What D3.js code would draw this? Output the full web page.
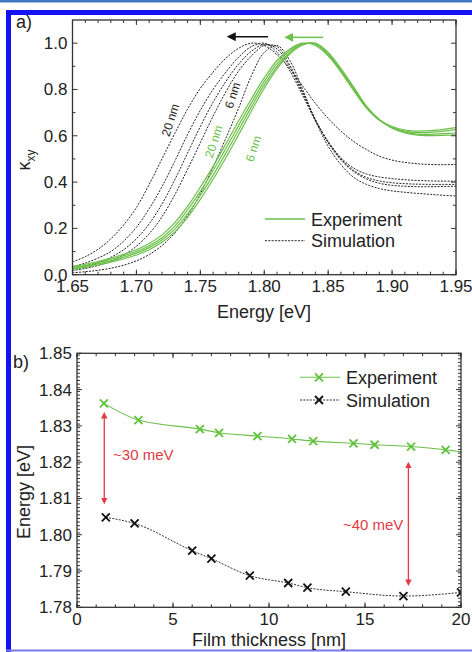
<!DOCTYPE html>
<html><head><meta charset="utf-8">
<script src="https://cdn.jsdelivr.net/npm/d3@7"></script>
<style>
html,body{margin:0;padding:0;background:#fff;}
svg{display:block;font-family:"Liberation Sans",Arial,sans-serif;}
</style></head>
<body>
<svg id="c" width="472" height="652"></svg>
<script>
// ---------- DATA ----------
const energies = [1.65,1.66,1.67,1.68,1.69,1.70,1.71,1.72,1.73,1.74,1.75,1.76,1.77,1.78,1.79,1.80,1.81,1.82,1.83,1.84,1.85,1.86,1.87,1.88,1.89,1.90,1.91,1.92,1.93,1.94,1.95];
const expA = [.035,.045,.057,.072,.088,.108,.135,.172,.225,.295,.378,.468,.565,.665,.76,.85,.925,.975,1.0,.99,.945,.875,.795,.72,.668,.64,.625,.62,.622,.628,.635];
const expB = [.03,.04,.052,.066,.082,.10,.125,.16,.21,.28,.36,.45,.545,.645,.742,.835,.912,.968,.997,.995,.95,.88,.80,.722,.668,.637,.62,.614,.615,.62,.627];
const expC = [.027,.036,.047,.06,.075,.093,.117,.15,.197,.263,.342,.43,.525,.625,.725,.82,.9,.96,.995,.997,.955,.885,.805,.725,.668,.635,.615,.607,.606,.609,.612];
const expD = [.024,.032,.042,.054,.068,.085,.108,.14,.185,.248,.325,.412,.505,.605,.707,.805,.89,.953,.992,1.0,.96,.89,.81,.728,.67,.633,.612,.603,.601,.602,.604];
const sim20 = [.055,.078,.11,.155,.215,.29,.39,.50,.61,.715,.805,.875,.935,.978,1.0,.99,.95,.89,.815,.74,.675,.62,.575,.54,.512,.495,.485,.479,.476,.475,.476];
const sim14 = [.035,.05,.072,.10,.145,.205,.285,.38,.49,.605,.71,.80,.875,.94,.985,1.0,.96,.88,.775,.665,.575,.505,.46,.435,.422,.415,.41,.407,.405,.404,.404];
const sim10 = [.025,.036,.052,.075,.108,.155,.22,.305,.41,.525,.64,.745,.835,.91,.965,.995,.975,.895,.785,.67,.575,.50,.45,.42,.405,.397,.393,.391,.39,.39,.39];
const sim8  = [.018,.027,.04,.058,.085,.123,.177,.25,.345,.455,.57,.685,.79,.88,.945,.99,.985,.905,.79,.67,.57,.495,.445,.413,.395,.386,.382,.38,.38,.381,.382];
const sim6  = [.008,.013,.019,.028,.041,.06,.087,.126,.18,.255,.35,.465,.59,.72,.86,.96,.99,.925,.80,.665,.555,.475,.42,.39,.372,.362,.356,.351,.347,.343,.34];

const xTicksA = [1.65,1.70,1.75,1.80,1.85,1.90,1.95];
const yTicksA = [0.0,0.2,0.4,0.6,0.8,1.0];

const expThick = [1.4,3.2,6.4,7.4,9.4,11.2,12.3,14.4,15.5,17.4,19.2,20.8];
const expPeak  = [1.8362,1.8316,1.8291,1.8281,1.8272,1.8264,1.8258,1.8252,1.8248,1.8243,1.8234,1.8222];
const simThick = [1.5,3,6,7,9,11,12,14,17,20];
const simPeak  = [1.8048,1.8031,1.7956,1.7934,1.7887,1.7867,1.7854,1.7843,1.7831,1.7841];
const xTicksB = [0,5,10,15,20];
const yTicksB = [1.78,1.79,1.80,1.81,1.82,1.83,1.84,1.85];

const GREEN = "#6cc04a", GREENM = "#5fc23a", RED = "#e33a44", AX = "#333";
const svg = d3.select("#c");

// ---------- FRAME ----------
svg.append("rect").attr("x",0).attr("y",0).attr("width",472).attr("height",2.5).attr("fill","#3f78bf");
svg.append("rect").attr("x",6).attr("y",10).attr("width",466).attr("height",5).attr("fill","#1212f2");
svg.append("rect").attr("x",6).attr("y",10).attr("width",5).attr("height",642).attr("fill","#1212f2");
svg.append("rect").attr("x",6).attr("y",649.5).attr("width",466).attr("height",2).attr("fill","#7a7ae8");

function frameAxes(g, x, y, xMajor, xMinor, yMajor, yMinor, xFmt, yFmt){
  const [x0,x1] = x.range(), [y0,y1] = y.range(); // y0 bottom
  const maj=5, mnr=3;
  const tk = g.append("g").attr("stroke",AX).attr("stroke-width",1);
  xMinor.forEach(v=>{ const px=x(v);
    tk.append("line").attr("x1",px).attr("x2",px).attr("y1",y0).attr("y2",y0-mnr);
    tk.append("line").attr("x1",px).attr("x2",px).attr("y1",y1).attr("y2",y1+mnr);});
  xMajor.forEach(v=>{ const px=x(v);
    tk.append("line").attr("x1",px).attr("x2",px).attr("y1",y0).attr("y2",y0-maj);
    tk.append("line").attr("x1",px).attr("x2",px).attr("y1",y1).attr("y2",y1+maj);});
  yMinor.forEach(v=>{ const py=y(v);
    tk.append("line").attr("y1",py).attr("y2",py).attr("x1",x0).attr("x2",x0+mnr);
    tk.append("line").attr("y1",py).attr("y2",py).attr("x1",x1).attr("x2",x1-mnr);});
  yMajor.forEach(v=>{ const py=y(v);
    tk.append("line").attr("y1",py).attr("y2",py).attr("x1",x0).attr("x2",x0+maj);
    tk.append("line").attr("y1",py).attr("y2",py).attr("x1",x1).attr("x2",x1-maj);});
  g.append("rect").attr("x",x0).attr("y",y1).attr("width",x1-x0).attr("height",y0-y1)
    .attr("fill","none").attr("stroke",AX).attr("stroke-width",1.3);
  const lab = g.append("g").attr("fill","#222").attr("font-size",17);
  xMajor.forEach(v=> lab.append("text").attr("x",x(v)).attr("y",y0+17.5).attr("text-anchor","middle").text(xFmt(v)));
  yMajor.forEach(v=> lab.append("text").attr("x",x0-5).attr("y",y(v)+6).attr("text-anchor","end").text(yFmt(v)));
}

// ---------- PANEL A ----------
const xA = d3.scaleLinear().domain([1.65,1.95]).range([72.5,456]);
const yA = d3.scaleLinear().domain([0,1.1]).range([274.7,20]);
const gA = svg.append("g");
svg.append("defs").html(
 '<clipPath id="clipA"><rect x="72.5" y="20" width="383.5" height="254.7"/></clipPath>'+
 '<clipPath id="clipB"><rect x="77" y="353.3" width="384" height="254"/></clipPath>'+
 '<marker id="ahK" viewBox="0 0 10 10" refX="1" refY="5" markerWidth="6" markerHeight="6" orient="auto-start-reverse"><path d="M0,0 L10,5 L0,10 z" fill="#111"/></marker>'+
 '<marker id="ahG" viewBox="0 0 10 10" refX="1" refY="5" markerWidth="6" markerHeight="6" orient="auto-start-reverse"><path d="M0,0 L10,5 L0,10 z" fill="'+GREEN+'"/></marker>'+
 '<marker id="ahR" viewBox="0 0 10 10" refX="1" refY="5" markerWidth="5" markerHeight="6" orient="auto-start-reverse"><path d="M0,0 L10,5 L0,10 z" fill="'+RED+'"/></marker>');

const lineA = d3.line().x((d,i)=>xA(energies[i])).y(d=>yA(d)).curve(d3.curveCatmullRom.alpha(0.5));
const curves = gA.append("g").attr("clip-path","url(#clipA)");
[sim20,sim14,sim10,sim8,sim6].forEach(s=>curves.append("path").attr("d",lineA(s))
  .attr("fill","none").attr("stroke","#222").attr("stroke-width",1).attr("stroke-dasharray","2,1.3"));
[expA,expB,expC,expD].forEach(s=>curves.append("path").attr("d",lineA(s))
  .attr("fill","none").attr("stroke",GREEN).attr("stroke-width",1.2));

frameAxes(gA, xA, yA, xTicksA, d3.range(165,196).map(v=>v/100), yTicksA, d3.range(1,11,2).map(v=>v/10),
  d3.format(".2f"), d3.format(".1f"));

// arrows
gA.append("line").attr("x1",xA(1.803)).attr("x2",xA(1.777)).attr("y1",yA(1.028)).attr("y2",yA(1.028))
  .attr("stroke","#111").attr("stroke-width",1.5).attr("marker-end","url(#ahK)");
gA.append("line").attr("x1",xA(1.846)).attr("x2",xA(1.822)).attr("y1",yA(1.025)).attr("y2",yA(1.025))
  .attr("stroke",GREEN).attr("stroke-width",1.5).attr("marker-end","url(#ahG)");
// curve labels
function rlab(e,v,t,c){ gA.append("text").attr("transform",`translate(${xA(e)},${yA(v)}) rotate(-72)`)
  .attr("text-anchor","middle").attr("dy","0.35em").attr("font-size",12).attr("fill",c).text(t);}
rlab(1.7265,0.668,"20 nm","#222"); rlab(1.7752,0.775,"6 nm","#222");
rlab(1.7605,0.575,"20 nm",GREEN); rlab(1.7915,0.545,"6 nm",GREEN);
// legend
gA.append("line").attr("x1",265).attr("x2",305).attr("y1",219).attr("y2",219).attr("stroke",GREEN).attr("stroke-width",1.5);
gA.append("line").attr("x1",265).attr("x2",305).attr("y1",240.7).attr("y2",240.7).attr("stroke","#222").attr("stroke-width",1).attr("stroke-dasharray","2,1.3");
gA.append("text").attr("x",311).attr("y",225.5).attr("font-size",18).attr("fill","#222").text("Experiment");
gA.append("text").attr("x",311).attr("y",247).attr("font-size",18).attr("fill","#222").text("Simulation");
// titles
gA.append("text").attr("x",264).attr("y",318).attr("text-anchor","middle").attr("font-size",18).attr("fill","#222").text("Energy [eV]");
const ky = gA.append("text").attr("transform","translate(30,160) rotate(-90)").attr("text-anchor","middle").attr("font-size",18).attr("fill","#222");
ky.append("tspan").text("κ"); ky.append("tspan").attr("font-size",12).attr("dy",5).text("xy");
gA.append("text").attr("x",16).attr("y",28).attr("font-size",18).attr("fill","#222").text("a)");

// ---------- PANEL B ----------
const xB = d3.scaleLinear().domain([0,20]).range([77,461]);
const yB = d3.scaleLinear().domain([1.78,1.85]).range([607.3,353.3]);
const gB = svg.append("g");
const data = gB.append("g").attr("clip-path","url(#clipB)");
const lineE = d3.line().x((d,i)=>xB(expThick[i])).y(d=>yB(d)).curve(d3.curveMonotoneX);
const lineS = d3.line().x((d,i)=>xB(simThick[i])).y(d=>yB(d)).curve(d3.curveMonotoneX);
data.append("path").attr("d",lineE(expPeak)).attr("fill","none").attr("stroke",GREEN).attr("stroke-width",1.1);
data.append("path").attr("d",lineS(simPeak)).attr("fill","none").attr("stroke","#333").attr("stroke-width",1).attr("stroke-dasharray","2,1.3");
function xm(g,cx,cy,col){ const s=4;
  g.append("path").attr("d",`M${cx-s},${cy-s}L${cx+s},${cy+s}M${cx-s},${cy+s}L${cx+s},${cy-s}`)
   .attr("stroke",col).attr("stroke-width",1.8).attr("fill","none");}
expPeak.forEach((v,i)=>xm(data,xB(expThick[i]),yB(v),GREENM));
simPeak.forEach((v,i)=>xm(data,xB(simThick[i]),yB(v),"#111"));

frameAxes(gB, xB, yB, xTicksB, d3.range(0,21), yTicksB, d3.range(17805,18500,10).map(v=>v/10000),
  d3.format("d"), d3.format(".2f"));

// red arrows
gB.append("line").attr("x1",xB(1.42)).attr("x2",xB(1.42)).attr("y1",yB(1.8322)).attr("y2",yB(1.8100))
  .attr("stroke",RED).attr("stroke-width",1.3).attr("marker-start","url(#ahR)").attr("marker-end","url(#ahR)");
gB.append("line").attr("x1",xB(17.26)).attr("x2",xB(17.26)).attr("y1",yB(1.8185)).attr("y2",yB(1.7875))
  .attr("stroke",RED).attr("stroke-width",1.3).attr("marker-start","url(#ahR)").attr("marker-end","url(#ahR)");
gB.append("text").attr("x",xB(1.88)).attr("y",yB(1.8207)).attr("font-size",15).attr("fill",RED).text("~30 meV");
gB.append("text").attr("x",xB(17.0)).attr("y",yB(1.8013)).attr("text-anchor","end").attr("font-size",15).attr("fill",RED).text("~40 meV");
// legend
gB.append("line").attr("x1",300).attr("x2",340).attr("y1",377.3).attr("y2",377.3).attr("stroke",GREEN).attr("stroke-width",1.1);
xm(gB,319,377.3,GREENM);
gB.append("line").attr("x1",300).attr("x2",340).attr("y1",400).attr("y2",400).attr("stroke","#333").attr("stroke-width",1).attr("stroke-dasharray","2,1.3");
xm(gB,319,400,"#111");
gB.append("text").attr("x",346).attr("y",384).attr("font-size",18).attr("fill","#222").text("Experiment");
gB.append("text").attr("x",346).attr("y",406.5).attr("font-size",18).attr("fill","#222").text("Simulation");
gB.append("text").attr("x",269).attr("y",646).attr("text-anchor","middle").attr("font-size",18).attr("fill","#222").text("Film thickness [nm]");
gB.append("text").attr("transform","translate(30,492) rotate(-90)").attr("text-anchor","middle").attr("font-size",18).attr("fill","#222").text("Energy [eV]");
gB.append("text").attr("x",13).attr("y",368).attr("font-size",18).attr("fill","#222").text("b)");
</script>
</body></html>
